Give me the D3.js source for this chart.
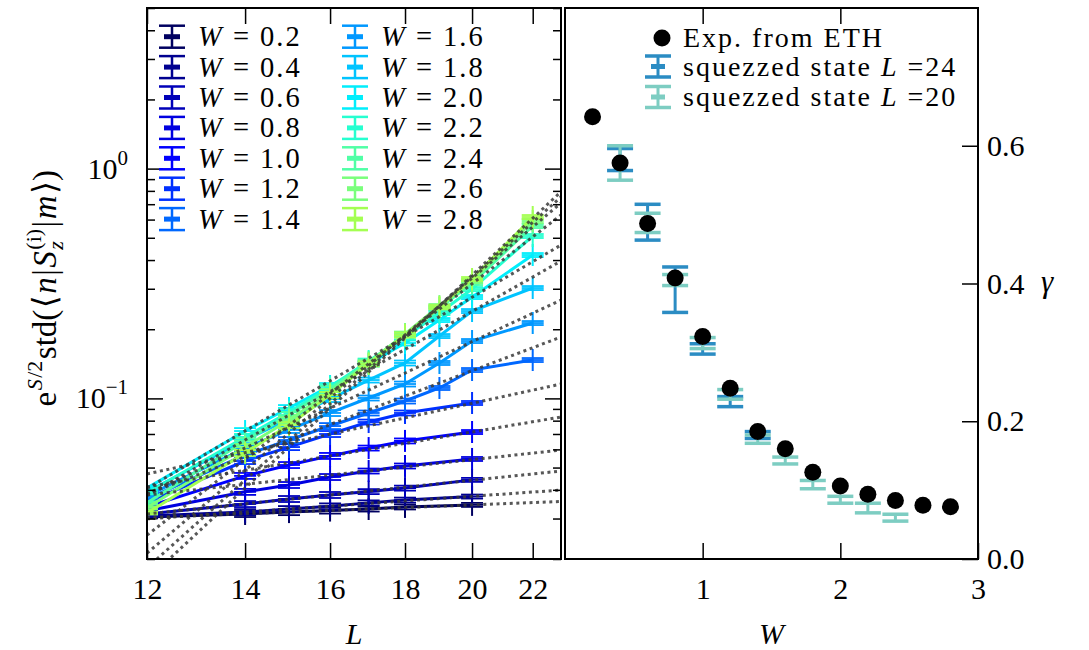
<!DOCTYPE html>
<html>
<head>
<meta charset="utf-8">
<script src="https://cdn.jsdelivr.net/npm/d3@7"></script>
<style>
body { margin: 0; background: #fff; }
svg text { font-family: "Liberation Serif", "DejaVu Serif", serif; white-space: pre; fill: #000; }
</style>
</head>
<body>
<div id="chart"></div>
<script>
// ---- left panel data: e^{S/2} std vs L, one series per W ----
var W_SERIES = [0.2, 0.4, 0.6, 0.8, 1.0, 1.2, 1.4, 1.6, 1.8, 2.0, 2.2, 2.4, 2.6, 2.8];
var L_SHORT = [12, 14, 15, 16, 17, 18, 20];          // W <= 1.2
var L_LONG = [12, 14, 15, 16, 17, 18, 19, 20, 22];   // W >= 1.4
var STD_VALUES = [
    [0.0305, 0.0314, 0.0320, 0.0325, 0.0330, 0.0337, 0.0344],
    [0.0308, 0.0320, 0.0330, 0.0339, 0.0351, 0.0361, 0.0374],
    [0.0314, 0.0347, 0.0365, 0.0380, 0.0393, 0.0407, 0.0442],
    [0.0324, 0.0392, 0.0420, 0.0455, 0.0483, 0.0508, 0.0545],
    [0.0337, 0.0460, 0.0513, 0.0562, 0.0608, 0.0653, 0.0714],
    [0.0354, 0.0534, 0.0614, 0.0700, 0.0789, 0.0864, 0.0955],
    [0.0365, 0.0567, 0.0659, 0.0758, 0.0864, 0.0974, 0.1110, 0.1329, 0.1469],
    [0.0376, 0.0608, 0.0729, 0.0864, 0.1004, 0.1155, 0.1426, 0.1777, 0.2128],
    [0.0392, 0.0659, 0.0814, 0.0994, 0.1202, 0.1426, 0.1868, 0.2400, 0.3022],
    [0.0407, 0.0721, 0.0908, 0.1132, 0.1411, 0.1742, 0.2193, 0.2762, 0.4207],
    [0.0388, 0.0679, 0.0873, 0.1121, 0.1454, 0.1850, 0.2352, 0.2992, 0.5090],
    [0.0351, 0.0653, 0.0847, 0.1099, 0.1440, 0.1887, 0.2473, 0.3178, 0.5626],
    [0.0334, 0.0614, 0.0805, 0.1066, 0.1426, 0.1906, 0.2523, 0.3242, 0.5915],
    [0.0317, 0.0579, 0.0766, 0.1035, 0.1411, 0.1887, 0.2498, 0.3308, 0.6157]
];
var REL_ERR_SHORT = [0.015, 0.03, 0.03, 0.03, 0.025, 0.025, 0.02];
var REL_ERR_LONG = [0.015, 0.03, 0.03, 0.03, 0.025, 0.025, 0.02, 0.02, 0.02];
// dotted fits, value at L = 12 and at L = 23
var FIT_AT_12 = [0.0303, 0.0299, 0.0314, 0.0380, 0.0412, 0.0469, 0.0384, 0.0384, 0.0378, 0.0405, 0.0254, 0.0212, 0.0183, 0.0162];
var FIT_AT_23 = [0.0356, 0.0399, 0.0483, 0.0596, 0.0830, 0.1155, 0.1850, 0.2680, 0.3961, 0.4651, 0.6283, 0.7086, 0.7525, 0.7934];
var FIT_L = [12, 23];
var L_TICKS = [12, 14, 16, 18, 20, 22];
var SERIES_COLORS = ["#000060", "#000090", "#0000b8", "#0000e0", "#0000ff", "#0030ff", "#0068ff",
                     "#0098ff", "#00c4ff", "#00eefc", "#26ffd0", "#50ffa6", "#7aff7c", "#a4ff52"];

// ---- right panel data: gamma vs W ----
var W_ETH = [0.2, 0.4, 0.6, 0.8, 1.0, 1.2, 1.4, 1.6, 1.8, 2.0, 2.2, 2.4, 2.6, 2.8];
var GAMMA_ETH = [0.642, 0.575, 0.487, 0.408, 0.323, 0.248, 0.185, 0.160, 0.126, 0.106, 0.094, 0.085, 0.078, 0.076];
var W_L24 = [0.4, 0.6, 0.8, 1.0, 1.2, 1.4];
var GAMMA_L24 = [0.580, 0.489, 0.391, 0.305, 0.2285, 0.180];
var ERR_L24 = [0.016, 0.026, 0.033, 0.0075, 0.0073, 0.005];
var W_L20 = [0.4, 0.6, 0.8, 1.0, 1.2, 1.4, 1.6, 1.8, 2.0, 2.2, 2.4];
var GAMMA_L20 = [0.575, 0.488, 0.405, 0.3135, 0.239, 0.174, 0.143, 0.108, 0.086, 0.074, 0.060];
var ERR_L20 = [0.025, 0.014, 0.008, 0.008, 0.007, 0.006, 0.005, 0.006, 0.005, 0.007, 0.005];
var W_TICKS = [1, 2, 3];
var GAMMA_TICKS = [0, 0.2, 0.4, 0.6];

var Chart = {
    w : 1089,
    h : 650,
    left : { x0 : 147, x1 : 561, y0 : 8, y1 : 559 },
    right : { x0 : 565, x1 : 978, y0 : 8, y1 : 559 },
    tickFont : 30,
    svg : null,

    init : function(divName) {
        this.svg = d3.select(divName).append("svg")
            .attr("width", this.w)
            .attr("height", this.h);
        this.xL = d3.scaleLog().domain([12, 23]).range([this.left.x0, this.left.x1]);
        this.yL = d3.scaleLog().domain([0.02, 5]).range([this.left.y1, this.left.y0]);
        this.xR = d3.scaleLinear().domain([0, 3]).range([this.right.x0, this.right.x1]);
        this.yR = d3.scaleLinear().domain([0, 0.8]).range([this.right.y1, this.right.y0]);
        this.drawLeft();
        this.drawRight();
        this.drawFrames();
        return this;
    },

    // horizontal run of text pieces measured one by one (sub/superscripts)
    richText : function(g, parts, size) {
        var x = 0, pending = 0;
        parts.forEach(function(p) {
            var el = g.append("text")
                .attr("x", x)
                .attr("y", -(p.up || 0))
                .style("font-size", (p.size || size) + "px")
                .style("font-style", p.it ? "italic" : "normal")
                .text(p.t);
            var w = el.node().getComputedTextLength() + (p.gap || 1.5);
            if (p.stack) { pending = Math.max(pending, w); }
            else { x += Math.max(pending, w); pending = 0; }
        });
        return x;
    },

    drawLeft : function() {
        var self = this, xL = this.xL, yL = this.yL, svg = this.svg, b = this.left;

        svg.append("clipPath").attr("id", "clipL").append("rect")
            .attr("x", b.x0).attr("y", b.y0)
            .attr("width", b.x1 - b.x0).attr("height", b.y1 - b.y0);

        var plot = svg.append("g").attr("clip-path", "url(#clipL)");
        var line = d3.line().x(function(d) { return xL(d[0]); }).y(function(d) { return yL(d[1]); });

        // data lines, "+" markers with small capped error bars
        W_SERIES.forEach(function(W, i) {
            var Ls = STD_VALUES[i].length == L_SHORT.length ? L_SHORT : L_LONG;
            var errs = Ls == L_SHORT ? REL_ERR_SHORT : REL_ERR_LONG;
            var pts = Ls.map(function(L, j) { return [L, STD_VALUES[i][j], errs[j]]; });
            var col = SERIES_COLORS[i];
            var g = plot.append("g");
            g.append("path")
                .attr("d", line(pts))
                .attr("fill", "none")
                .attr("stroke", col)
                .attr("stroke-width", 3);
            pts.forEach(function(p) {
                var x = xL(p[0]), c = yL(p[1]);
                var lo = yL(p[1] * (1 - p[2])), hi = yL(p[1] * (1 + p[2]));
                g.append("line").attr("x1", x).attr("x2", x).attr("y1", c - 11).attr("y2", c + 11)
                    .attr("stroke", col).attr("stroke-width", 2);
                [lo, hi, c].forEach(function(y) {
                    g.append("line").attr("x1", x - 11).attr("x2", x + 11).attr("y1", y).attr("y2", y)
                        .attr("stroke", col).attr("stroke-width", 1.8);
                });
            });
        });

        // dotted fits on top
        W_SERIES.forEach(function(W, i) {
            plot.append("path")
                .attr("d", line([[FIT_L[0], FIT_AT_12[i]], [FIT_L[1], FIT_AT_23[i]]]))
                .attr("fill", "none")
                .attr("stroke", "#3a3a3a")
                .attr("stroke-opacity", 0.85)
                .attr("stroke-width", 3)
                .attr("stroke-dasharray", "3,3.6");
        });

        // x axis, ticks inward on bottom and top
        svg.append("g")
            .attr("transform", "translate(0," + b.y1 + ")")
            .call(d3.axisBottom(xL).tickValues(L_TICKS).tickFormat(d3.format("d")).tickSize(-16).tickPadding(19))
            .call(this.styleAxis);
        svg.append("g")
            .attr("transform", "translate(0," + b.y0 + ")")
            .call(d3.axisTop(xL).tickValues(L_TICKS).tickFormat("").tickSize(-16))
            .call(this.styleAxis);

        // log y ticks on both sides
        var all = yL.ticks();
        var majors = all.filter(function(d) { return Math.abs(Math.log10(d) - Math.round(Math.log10(d))) < 1e-6; });
        var minors = all.filter(function(d) { return majors.indexOf(d) < 0; });
        [[d3.axisLeft, b.x0], [d3.axisRight, b.x1]].forEach(function(a) {
            svg.append("g").attr("transform", "translate(" + a[1] + ",0)")
                .call(a[0](yL).tickValues(minors).tickFormat("").tickSize(-8))
                .call(self.styleAxis);
            svg.append("g").attr("transform", "translate(" + a[1] + ",0)")
                .call(a[0](yL).tickValues(majors).tickFormat("").tickSize(-16))
                .call(self.styleAxis);
        });

        // 10^k labels
        majors.forEach(function(d) {
            var t = svg.append("text")
                .attr("x", b.x0 - 19)
                .attr("y", yL(d) + 10)
                .attr("text-anchor", "end")
                .style("font-size", self.tickFont + "px");
            t.append("tspan").text("10");
            t.append("tspan").attr("dy", -14).style("font-size", "21px")
                .text(String(Math.round(Math.log10(d))).replace("-", "\u2212"));
        });

        // y label
        var lab = svg.append("g").attr("transform", "translate(56," + ((b.y0 + b.y1) / 2 + 4) + ") rotate(-90)");
        var inner = lab.append("g");
        var width = this.richText(inner, [
            { t : "e" },
            { t : "S", it : true, size : 22, up : 14, gap : 0 },
            { t : "/2", size : 22, up : 14 },
            { t : "std(" },
            { t : "\u27E8" },
            { t : "n", it : true },
            { t : "|" },
            { t : "S", it : true },
            { t : "z", it : true, size : 22, up : -7, stack : true },
            { t : "(i)", size : 22, up : 15 },
            { t : "|" },
            { t : "m", it : true },
            { t : "\u27E9)" }
        ], 33);
        inner.attr("transform", "translate(" + (-width / 2) + ",0)");

        svg.append("text")
            .attr("x", (b.x0 + b.x1) / 2).attr("y", 644)
            .attr("text-anchor", "middle")
            .style("font-size", "30px").style("font-style", "italic")
            .text("L");

        // legend, two columns of seven
        W_SERIES.forEach(function(W, i) {
            var col = Math.floor(i / 7), row = i % 7;
            var cx = col == 0 ? 172 : 355, cy = 36.7 + row * 30.4;
            var c = SERIES_COLORS[i];
            var g = svg.append("g");
            g.append("line").attr("x1", cx).attr("x2", cx).attr("y1", cy - 11).attr("y2", cy + 11)
                .attr("stroke", c).attr("stroke-width", 2.5);
            [cy - 11, cy + 11].forEach(function(y) {
                g.append("line").attr("x1", cx - 13).attr("x2", cx + 13).attr("y1", y).attr("y2", y)
                    .attr("stroke", c).attr("stroke-width", 2.5);
            });
            g.append("line").attr("x1", cx - 8).attr("x2", cx + 8).attr("y1", cy).attr("y2", cy)
                .attr("stroke", c).attr("stroke-width", 5);
            var t = g.append("text").attr("x", cx + 26).attr("y", cy + 9.5)
                .style("font-size", "28.5px").style("letter-spacing", "2px");
            t.append("tspan").style("font-style", "italic").text("W");
            t.append("tspan").text(" = " + W.toFixed(1));
        });
    },

    drawRight : function() {
        var xR = this.xR, yR = this.yR, svg = this.svg, b = this.right;

        function errorbars(ws, vals, errs, col) {
            var g = svg.append("g");
            ws.forEach(function(w, i) {
                var x = xR(w), lo = yR(vals[i] - errs[i]), hi = yR(vals[i] + errs[i]);
                g.append("line").attr("x1", x).attr("x2", x).attr("y1", lo).attr("y2", hi)
                    .attr("stroke", col).attr("stroke-width", 3);
                [lo, hi].forEach(function(y) {
                    g.append("line").attr("x1", x - 13).attr("x2", x + 13).attr("y1", y).attr("y2", y)
                        .attr("stroke", col).attr("stroke-width", 3.5);
                });
            });
        }
        errorbars(W_L24, GAMMA_L24, ERR_L24, "#2b8cc3");
        errorbars(W_L20, GAMMA_L20, ERR_L20, "#7dcdc2");

        svg.append("g").selectAll("circle")
            .data(W_ETH)
            .enter().append("circle")
            .attr("cx", function(d) { return xR(d); })
            .attr("cy", function(d, i) { return yR(GAMMA_ETH[i]); })
            .attr("r", 8.5)
            .attr("fill", "#000");

        svg.append("g")
            .attr("transform", "translate(0," + b.y1 + ")")
            .call(d3.axisBottom(xR).tickValues(W_TICKS).tickFormat(d3.format("d")).tickSize(-16).tickPadding(19))
            .call(this.styleAxis);
        svg.append("g")
            .attr("transform", "translate(0," + b.y0 + ")")
            .call(d3.axisTop(xR).tickValues(W_TICKS.slice(0, 2)).tickFormat("").tickSize(-16))
            .call(this.styleAxis);
        svg.append("g")
            .attr("transform", "translate(" + b.x1 + ",0)")
            .call(d3.axisRight(yR).tickValues(GAMMA_TICKS).tickFormat(d3.format(".1f")).tickSize(-16).tickPadding(9))
            .call(this.styleAxis);

        svg.append("text")
            .attr("x", (b.x0 + b.x1) / 2).attr("y", 644)
            .attr("text-anchor", "middle")
            .style("font-size", "30px").style("font-style", "italic")
            .text("W");
        svg.append("text")
            .attr("x", 1041).attr("y", 292)
            .style("font-size", "31px").style("font-style", "italic")
            .text("\u03B3");

        // legend
        svg.append("circle").attr("cx", 662).attr("cy", 38).attr("r", 8.5).attr("fill", "#000");
        svg.append("text").attr("x", 683).attr("y", 47)
            .style("font-size", "28px").style("letter-spacing", "2px")
            .text("Exp. from ETH");
        [["#2b8cc3", "24", 66.5], ["#7dcdc2", "20", 97]].forEach(function(r) {
            var cx = 658, cy = r[2];
            svg.append("line").attr("x1", cx).attr("x2", cx).attr("y1", cy - 10.5).attr("y2", cy + 10.5)
                .attr("stroke", r[0]).attr("stroke-width", 3);
            [cy - 10.5, cy + 10.5, cy].forEach(function(y, k) {
                svg.append("line").attr("x1", cx - (k == 2 ? 7 : 13)).attr("x2", cx + (k == 2 ? 7 : 13))
                    .attr("y1", y).attr("y2", y)
                    .attr("stroke", r[0]).attr("stroke-width", k == 2 ? 5 : 3.5);
            });
            var t = svg.append("text").attr("x", 683).attr("y", cy + 9)
                .style("font-size", "28px").style("letter-spacing", "2px");
            t.append("tspan").text("squezzed state ");
            t.append("tspan").style("font-style", "italic").text("L");
            t.append("tspan").text(" =" + r[1]);
        });
    },

    styleAxis : function(g) {
        g.select(".domain").remove();
        g.selectAll(".tick line").attr("stroke", "#000").attr("stroke-width", 1.5);
        g.selectAll(".tick text")
            .attr("fill", "#000")
            .style("font-family", "\"Liberation Serif\", serif")
            .style("font-size", Chart.tickFont + "px");
    },

    drawFrames : function() {
        var svg = this.svg;
        [this.left, this.right].forEach(function(b) {
            svg.append("rect")
                .attr("x", b.x0).attr("y", b.y0)
                .attr("width", b.x1 - b.x0).attr("height", b.y1 - b.y0)
                .attr("fill", "none")
                .attr("stroke", "#000")
                .attr("stroke-width", 2);
        });
    }
};

Chart.init("#chart");
</script>
</body>
</html>
